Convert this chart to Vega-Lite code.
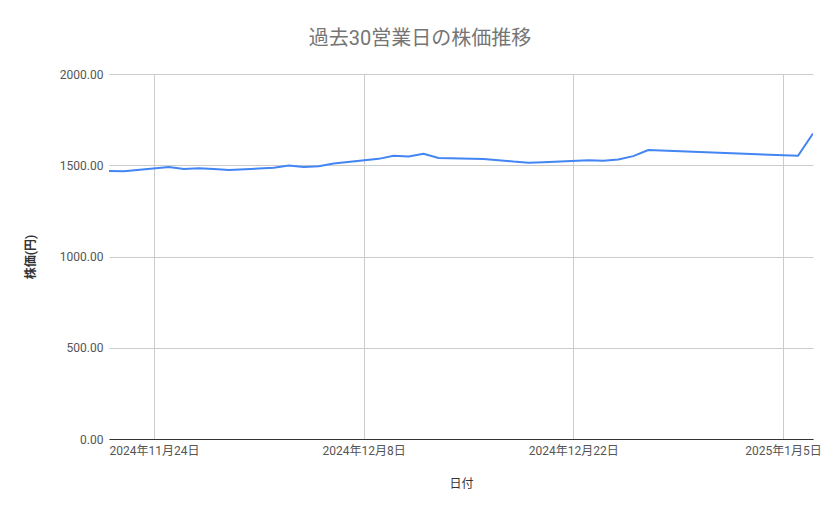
{
  "$schema": "https://vega.github.io/schema/vega-lite/v6.json",
  "width": 704,
  "height": 365,
  "autosize": {"type": "none"},
  "padding": {"left": 109, "top": 74, "right": 26, "bottom": 80},
  "background": "#ffffff",
  "title": {
    "text": "過去30営業日の株価推移",
    "anchor": "middle",
    "fontSize": 20,
    "fontWeight": "normal",
    "color": "#757575",
    "font": "Roboto, Noto Sans CJK JP",
    "offset": 19,
    "dx": -41
  },
  "data": {
    "values": [
      {"date": "2024-11-21", "price": 1468},
      {"date": "2024-11-22", "price": 1467},
      {"date": "2024-11-25", "price": 1490},
      {"date": "2024-11-26", "price": 1479},
      {"date": "2024-11-27", "price": 1484},
      {"date": "2024-11-28", "price": 1479},
      {"date": "2024-11-29", "price": 1474},
      {"date": "2024-12-02", "price": 1486},
      {"date": "2024-12-03", "price": 1499},
      {"date": "2024-12-04", "price": 1490},
      {"date": "2024-12-05", "price": 1495},
      {"date": "2024-12-06", "price": 1510},
      {"date": "2024-12-09", "price": 1535},
      {"date": "2024-12-10", "price": 1552},
      {"date": "2024-12-11", "price": 1548},
      {"date": "2024-12-12", "price": 1563},
      {"date": "2024-12-13", "price": 1540},
      {"date": "2024-12-16", "price": 1534},
      {"date": "2024-12-17", "price": 1528},
      {"date": "2024-12-18", "price": 1520},
      {"date": "2024-12-19", "price": 1514},
      {"date": "2024-12-20", "price": 1517},
      {"date": "2024-12-23", "price": 1528},
      {"date": "2024-12-24", "price": 1524},
      {"date": "2024-12-25", "price": 1531},
      {"date": "2024-12-26", "price": 1550},
      {"date": "2024-12-27", "price": 1583},
      {"date": "2024-12-30", "price": 1574},
      {"date": "2025-01-06", "price": 1552},
      {"date": "2025-01-07", "price": 1674}
    ]
  },
  "mark": {"type": "line", "color": "#4285F4", "strokeWidth": 2, "clip": true},
  "encoding": {
    "x": {
      "field": "date",
      "type": "temporal",
      "scale": {
        "type": "utc",
        "domain": [
          {"year": 2024, "month": 11, "date": 21, "utc": true},
          {"year": 2025, "month": 1, "date": 7, "utc": true}
        ]
      },
      "axis": {
        "title": "日付",
        "values": [
          {"year": 2024, "month": 11, "date": 24, "utc": true},
          {"year": 2024, "month": 12, "date": 8, "utc": true},
          {"year": 2024, "month": 12, "date": 22, "utc": true},
          {"year": 2025, "month": 1, "date": 5, "utc": true}
        ],
        "labelExpr": "utcFormat(datum.value, '%Y年%-m月%-d日')",
        "labelFont": "Roboto, Noto Sans CJK JP",
        "labelFontSize": 12,
        "labelColor": "#555555",
        "labelPadding": 6,
        "labelOverlap": false,
        "labelFlush": false,
        "ticks": false,
        "domainColor": "#333333",
        "domainWidth": 1,
        "grid": true,
        "gridColor": "#cccccc",
        "titleFont": "Roboto, Noto Sans CJK JP",
        "titleFontSize": 12,
        "titleFontWeight": "normal",
        "titleColor": "#333333",
        "titlePadding": 22
      }
    },
    "y": {
      "field": "price",
      "type": "quantitative",
      "scale": {"domain": [0, 2000]},
      "axis": {
        "title": "株価(円)",
        "values": [0, 500, 1000, 1500, 2000],
        "format": ".2f",
        "labelFont": "Roboto, Noto Sans CJK JP",
        "labelFontSize": 12,
        "labelColor": "#555555",
        "labelPadding": 6,
        "ticks": false,
        "domain": false,
        "grid": true,
        "gridColor": "#cccccc",
        "titleFont": "Roboto, Noto Sans CJK JP",
        "titleFontSize": 12,
        "titleFontWeight": "bold",
        "titleColor": "#333333",
        "titlePadding": 22
      }
    }
  },
  "config": {"view": {"stroke": null}}
}
